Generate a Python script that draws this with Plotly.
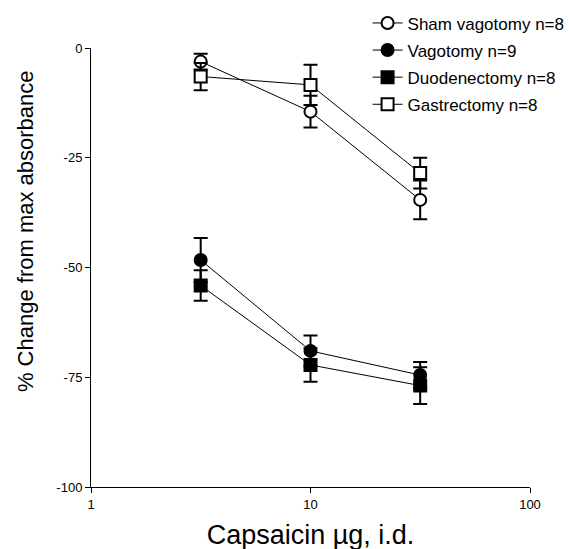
import plotly.graph_objects as go

dose = [3.16, 10, 31.6]
sham = [-3.1, -14.5, -34.6]
sham_err = [1.8, 3.6, 4.4]
vag = [-48.3, -69.0, -74.5]
vag_err = [5.0, 3.5, 3.0]
duod = [-54.1, -72.2, -76.9]
duod_err = [3.5, 3.8, 4.2]
gast = [-6.5, -8.4, -28.5]
gast_err = [3.1, 4.6, 3.5]

names = ["Sham vagotomy n=8", "Vagotomy n=9", "Duodenectomy n=8", "Gastrectomy n=8"]
symbols = ["circle", "circle", "square", "square"]
fills = ["white", "black", "black", "white"]

ytickvals = [0, -25, -50, -75, -100]
yticktext = ["0", "-25", "-50", "-75", "-100"]
xtickvals = [1, 10, 100]
xticktext = ["1", "10", "100"]

FONT = "Arial, Liberation Sans, sans-serif"

fig = go.Figure()
for i, (name, y, e, sym, fc) in enumerate(zip(names, [sham, vag, duod, gast],
                                               [sham_err, vag_err, duod_err, gast_err],
                                               symbols, fills)):
    fig.add_trace(go.Scatter(
        x=dose, y=y, name=name, mode="lines+markers",
        legendgroup=f"g{i}",
        line=dict(color="black", width=1),
        marker=dict(symbol=sym, size=12, color=fc,
                    line=dict(color="black", width=2)),
        error_y=dict(type="data", array=e, visible=True, color="black",
                     thickness=2, width=7),
    ))

fig.update_layout(
    width=572, height=549,
    paper_bgcolor="white", plot_bgcolor="white",
    margin=dict(l=83, r=50, t=40, b=70, autoexpand=False),
    font=dict(family=FONT, color="black"),
    showlegend=True,
    legend=dict(x=0.63, y=1.097, xanchor="left", yanchor="top",
                font=dict(size=17, family=FONT), tracegroupgap=2,
                bgcolor="rgba(0,0,0,0)", itemwidth=30),
    xaxis=dict(type="log", range=[0, 2], tickvals=xtickvals, ticktext=xticktext,
               showgrid=False, zeroline=False, showline=True, linecolor="black",
               linewidth=1, ticks="outside", ticklen=5, tickcolor="black",
               tickfont=dict(size=13), automargin=False,
               title=dict(text="Capsaicin µg, i.d.", font=dict(size=27), standoff=14)),
    yaxis=dict(range=[-100, 0], tickvals=ytickvals, ticktext=yticktext,
               showgrid=False, zeroline=False, showline=True, linecolor="black",
               linewidth=1, ticks="outside", ticklen=5, tickcolor="black",
               tickfont=dict(size=13), automargin=False),
    annotations=[dict(text="% Change from max absorbance", textangle=-90,
                      xref="paper", yref="paper", x=0, y=0.583, xshift=-66,
                      xanchor="center", yanchor="middle", showarrow=False,
                      font=dict(size=22, family=FONT))],
)

fig.write_html("out.html")
